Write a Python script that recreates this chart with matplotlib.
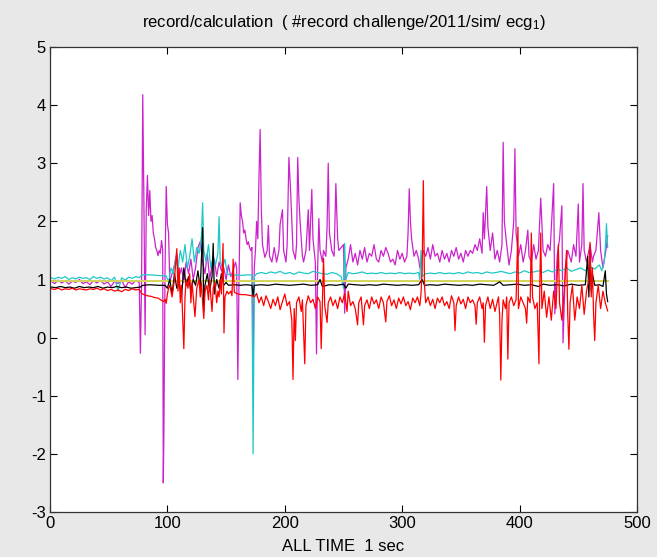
import matplotlib
matplotlib.use('Agg')
import matplotlib.pyplot as plt
import numpy as np

plt.rcParams['font.family'] = ['Liberation Sans Narrow', 'Liberation Sans', 'DejaVu Sans']
plt.rcParams['mathtext.default'] = 'regular'
plt.rcParams['axes.unicode_minus'] = False

# ---- data: (time, value) vertices ----
mag_start = [0.97, 0.93, 0.99, 0.94, 0.98, 0.92, 0.97, 0.95, 1.00, 0.93, 0.96, 0.91, 0.98,
             0.94, 0.99, 0.92, 0.96, 0.88, 0.97, 0.93, 0.99, 0.86, 0.96, 0.92, 0.98, 0.95]
mag = [(77, -0.27), (78, 0.95), (79, 4.18), (80, 2.3), (81, 0.05), (82, 2.2), (83, 2.79), (84, 2.1),
       (85, 2.53), (86, 2.0), (87, 2.1), (88, 1.8), (89, 1.7), (90, 1.55), (91, 1.5), (92, 1.41),
       (93, 1.5), (94, 1.45), (95, 1.67), (96, 1.5), (96.5, -2.5), (97, -1.64), (98, 1.2), (99, 2.6),
       (100, 1.95), (101, 1.8),
       (102, 0.95), (104, 1.1), (106, 1.25), (108, 1.45), (110, 1.05), (112, 1.2), (114, 0.95),
       (116, 1.3), (118, 1.1), (120, 1.35), (122, 1.0), (124, 1.2), (126, 1.55), (128, 1.65),
       (130, 1.3), (132, 1.1), (134, 1.45), (136, 1.0), (138, 1.25), (140, 1.35), (142, 1.05),
       (144, 1.3), (146, 1.15), (148, 1.2), (150, 1.0), (152, 1.25), (154, 1.05), (156, 1.15),
       (158, 1.3),
       (159, 1.2), (160, -0.72), (161, 1.0), (162, 2.32), (163, 2.1), (164, 2.0), (165, 1.8),
       (166, 1.85), (167, 1.7), (168, 1.6), (169, 1.65), (170, 1.55), (171, 1.5), (172, 1.55),
       (173, -0.6), (174, 1.2), (175, 1.5), (176, 2.0), (177, 1.7), (178, 2.75), (179, 3.58),
       (180, 2.2),
       (181, 1.6), (183, 1.38), (185, 1.5), (186, 1.93), (187, 1.4), (189, 1.3), (191, 1.55),
       (193, 1.3), (195, 1.5), (196, 1.95), (198, 2.2), (199, 1.5), (201, 1.3), (202, 1.6),
       (203.5, 3.1), (205, 2.5), (207, 1.5), (209, 1.35), (210, 1.6), (211, 3.1), (212, 2.4),
       (213, 2.0), (215, 1.4), (216, 1.3), (218, 1.5), (220, 2.2), (221, 1.5), (223, 2.55),
       (224, 1.7), (226, 1.3), (227, -0.28), (228, 1.2), (229, 2.05), (230, 1.5), (232, 1.3),
       (233, 1.5), (235, 1.4), (236, 1.9), (237, 3.0), (238, 1.8), (240, 1.5), (242, 1.4),
       (243.5, 2.65), (245, 1.7), (246, 1.5), (248, 1.55), (250, 1.6), (251, 0.42), (252, 1.2),
       (254, 1.35), (256, 1.6), (258, 1.3), (260, 1.45), (262, 1.25), (264, 1.5), (266, 1.35),
       (268, 1.55), (270, 1.3), (272, 1.45), (274, 1.4), (276, 1.6), (278, 1.35), (280, 1.3),
       (282, 1.5), (284, 1.4), (286, 1.55), (288, 1.45), (290, 1.3), (292, 1.35), (294, 1.25),
       (296, 1.5), (298, 1.35), (300, 1.45), (302, 1.3), (304, 1.4), (305, 1.8), (306, 2.56),
       (307, 2.0), (308, 1.7), (310, 1.4), (312, 1.5), (314, 1.35), (315, 1.2), (316, 1.25),
       (318, 1.5), (320, 1.4), (322, 1.55), (324, 1.35), (326, 1.6), (328, 1.4), (330, 1.45),
       (332, 1.3), (334, 1.5), (336, 1.35), (338, 1.45), (340, 1.3), (342, 1.5), (344, 1.4),
       (346, 1.55), (348, 1.35), (350, 1.45), (352, 1.3), (354, 1.5), (356, 1.4), (358, 1.5),
       (360, 1.45), (362, 1.6),
       (364, 1.5), (366, 1.7), (368, 1.45), (369, 2.15), (370, 1.7), (372, 2.6), (373, 1.9),
       (375, 1.5), (377, 1.8), (379, 1.35), (381, 1.5), (383, 1.3), (385, 1.6), (386, 3.36),
       (387, 2.0), (389, 1.6), (391, 1.25), (393, 1.5), (395, 2.0), (396, 3.25), (397, 1.8),
       (399, 1.4), (401, 1.6), (403, 1.3), (405, 1.5), (407, 1.85), (408, 1.4), (410, 1.3),
       (412, 1.6), (414, 1.35), (416, 1.5), (418, 2.4), (420, 1.5), (422, 1.4), (424, 1.6),
       (426, 1.5), (429, 2.65), (430, 0.41), (432, 1.4), (434, 1.7), (436, 2.27), (437, -0.09),
       (439, 1.2), (441, 1.5), (444, 1.3), (446, 1.6), (448, 1.4), (450, 2.3), (451, 1.3),
       (453, 1.6), (454, 2.65), (455, 1.5), (457, 1.3), (458, 1.4), (460, 1.6), (462, 1.3),
       (463, 1.4), (465, 1.5), (467.5, 2.15), (469, 1.5), (471, 1.2), (473.5, 1.5), (475, 1.75)]

cyan_start = [1.03, 1.01, 1.04, 1.02, 1.05, 1.00, 1.03, 1.01, 1.04, 1.02, 1.03, 1.00, 1.05,
              1.02, 1.04, 1.01, 1.03, 0.98, 1.04, 0.80, 1.03, 0.99, 1.04, 1.02, 1.05, 1.03]
cyan = [(78, 1.08), (85, 1.08), (92, 1.07), (99, 1.06), (101, 0.95), (103, 1.2), (105, 1.1),
        (107, 1.35), (109, 1.2), (111, 1.5), (113, 1.3), (115, 1.6), (117, 1.2), (119, 1.4),
        (121, 1.7), (123, 1.3), (125, 1.55), (127, 1.45), (129, 1.75), (130, 2.32), (131, 1.5),
        (133, 1.3), (135, 1.6), (137, 1.2), (139, 1.4), (141, 1.25), (143, 1.45), (144, 2.08),
        (145, 1.3), (147, 1.2), (149, 1.35), (151, 1.1), (153, 1.08), (156, 1.07), (160, 1.08),
        (164, 1.07), (168, 1.08), (172, 1.08), (173, -2.0), (174, 1.05), (176, 1.1),
        (180, 1.12), (184, 1.1), (188, 1.13), (192, 1.11), (196, 1.14), (200, 1.1), (204, 1.12),
        (208, 1.09), (212, 1.13), (216, 1.11), (220, 1.1), (224, 1.14), (228, 1.12), (232, 1.1),
        (236, 1.09), (240, 1.12), (244, 1.1), (248, 1.05), (250, 0.85), (251, 1.62), (252, 1.0),
        (254, 1.12), (258, 1.1), (262, 1.11), (266, 1.13), (270, 1.1), (274, 1.11), (278, 1.1),
        (282, 1.12), (286, 1.1), (290, 1.11), (294, 1.1), (298, 1.12), (302, 1.1), (306, 1.11),
        (310, 1.1), (314, 1.12), (315, 1.0), (316, 1.5), (317, 1.05), (320, 1.1), (324, 1.11),
        (328, 1.1), (332, 1.12), (336, 1.1), (340, 1.11), (344, 1.1), (348, 1.12), (352, 1.1),
        (356, 1.13), (360, 1.11), (364, 1.12), (368, 1.1), (372, 1.13), (376, 1.11), (380, 1.12),
        (384, 1.14), (388, 1.12), (392, 1.1), (396, 1.13), (400, 1.11), (404, 1.15), (408, 1.12),
        (412, 1.13), (416, 1.15), (420, 1.12), (424, 1.16), (428, 1.13), (432, 1.18), (436, 1.15),
        (440, 1.2), (444, 1.14), (448, 1.17), (452, 1.2), (456, 1.15), (460, 1.22), (464, 1.18),
        (468, 1.25), (470, 1.15), (472, 1.3), (473, 1.55), (474, 1.96), (475, 1.55)]

black_start = [0.87, 0.86, 0.88, 0.86, 0.87, 0.85, 0.88, 0.86, 0.87, 0.86,
               0.88, 0.85, 0.87, 0.86, 0.88, 0.86, 0.87, 0.85, 0.86, 0.87]
black = [(79, 0.9), (85, 0.91), (92, 0.9), (98, 0.9), (100, 0.85), (102, 1.0), (104, 0.75),
         (106, 1.1), (108, 0.85), (110, 0.95), (112, 0.7), (114, 1.2), (116, 0.9), (118, 1.05),
         (120, 0.8), (122, 1.0), (124, 0.9), (126, 1.15), (128, 0.85), (130, 1.89), (131, 0.46),
         (132, 0.9), (134, 1.1), (136, 0.8), (138, 1.05), (139, 1.62), (140, 0.75), (142, 1.0),
         (144, 0.85), (146, 1.1), (148, 0.9), (150, 0.95), (152, 0.9), (157, 0.91), (162, 0.9),
         (167, 0.91), (172, 0.9), (173, 0.72), (174, 0.9), (180, 0.91), (186, 0.9), (192, 0.92),
         (198, 0.91), (204, 0.9), (210, 0.91), (216, 0.92), (222, 0.9), (228, 0.91), (230, 1.0),
         (232, 0.88), (238, 0.91), (244, 0.9), (250, 0.92), (252, 0.85), (254, 0.92), (260, 0.91),
         (266, 0.9), (272, 0.91), (278, 0.9), (284, 0.92), (290, 0.91), (296, 0.9), (302, 0.91),
         (308, 0.9), (314, 0.91), (317, 1.0), (319, 0.9), (324, 0.91), (330, 0.9), (336, 0.92),
         (342, 0.91), (348, 0.9), (354, 0.91), (360, 0.9), (366, 0.92), (372, 0.91), (378, 0.9),
         (383, 0.96), (386, 0.9), (392, 0.91), (398, 0.92), (404, 0.9), (410, 0.91), (416, 0.88),
         (420, 0.92), (426, 0.9), (432, 0.91), (438, 0.89), (444, 0.92), (450, 0.9), (456, 0.91),
         (458, 1.4), (459, 0.7), (460, 1.5), (461, 0.8), (462, 1.1), (464, 0.9), (468, 0.91),
         (471, 0.88), (473, 1.15), (474, 0.75), (475, 0.62)]

red_start = [0.84, 0.83, 0.85, 0.82, 0.84, 0.83, 0.85, 0.82, 0.84, 0.83, 0.82, 0.84, 0.83,
             0.85, 0.82, 0.84, 0.81, 0.83, 0.80, 0.82, 0.79, 0.83, 0.81, 0.84, 0.82, 0.83]
red = [(78, 0.76), (80, 0.74), (83, 0.72), (86, 0.71), (89, 0.69), (92, 0.68), (95, 0.64),
       (97, 0.62), (98, 0.66), (99, 0.59), (100, 0.75), (101, 0.85),
       (102, 0.9), (104, 0.7), (106, 1.0), (108, 1.53), (109, 0.8), (110, 1.2), (111, 0.6),
       (112, 0.9), (113, 0.33), (114, -0.19), (115, 0.7), (116, 1.0), (117.5, 0.85), (119, 1.1),
       (120, 0.6), (121, 0.95), (122, 0.7), (123.5, 0.36), (125, 0.85), (127, 1.0), (128, 0.7),
       (129, 0.95), (130, 0.6), (131, 0.33), (132, 0.8), (133.7, 0.9), (135, 0.65), (136, 1.0),
       (137, 0.7), (138, 0.45), (139, 0.85), (140.5, 0.95), (142, 0.6), (143, 0.8), (144, 0.7),
       (145, 1.0), (146, 0.75), (147.4, 1.62), (148.2, 0.08), (149, 0.7), (150.8, 0.8),
       (152, 0.75), (154, 0.8), (155, 0.72), (156, 1.35), (157, 0.78),
       (160, 0.75), (163, 0.74), (166, 0.74), (169, 0.73), (172, 0.72), (174, 0.7), (176, 0.76),
       (178, 0.6), (180, 0.7), (182, 0.55), (184, 0.72), (186, 0.62), (188, 0.5), (190, 0.66),
       (192, 0.55), (194, 0.7), (196, 0.48), (198, 0.62), (200, 0.75), (202, 0.55), (204, 0.62),
       (206, 0.3), (207, -0.72), (208, 0.5), (209, -0.05), (210, 0.6), (212, 0.7), (214, 0.45),
       (215, 0.65), (216, 0.1), (217, -0.45), (218, 0.55), (220, 0.72), (222, 0.6), (224, 0.66),
       (226, 0.5), (228, 0.7), (230, 0.62), (231, -0.19), (232, 0.6), (233, 1.36), (234, 0.55),
       (236, 0.26), (237, 0.6), (239, 0.7), (241, 0.55), (243, 0.65), (245, 0.5), (247, 0.7),
       (249, 0.6), (251, 0.76), (253, 0.45), (254, 0.8), (256, 0.55), (258, 0.62), (260, 0.5),
       (262, 0.22), (263, 0.6), (265, 0.7), (267, 0.22), (268, 0.55), (270, 0.65), (272, 0.5),
       (274, 0.7), (276, 0.58), (278, 0.65), (280, 0.5), (282, 0.7), (284, 0.6), (286, 0.27),
       (287, 0.62), (289, 0.72), (291, 0.55), (293, 0.65), (295, 0.5), (297, 0.68), (299, 0.58),
       (301, 0.7), (303, 0.55), (305, 0.62), (307, 0.48), (309, 0.68), (311, 0.6), (313, 0.7),
       (315, 0.55), (316, 0.75), (317, 1.2), (318, 2.7), (319, 0.9), (320, 0.6), (322, 0.7),
       (324, 0.55), (326, 0.66), (328, 0.5), (330, 0.68), (332, 0.6), (334, 0.7), (336, 0.55),
       (338, 0.62), (340, 0.5), (342, 0.72), (344, 0.6), (345, 0.12), (346, 0.55), (348, 0.7),
       (350, 0.58), (352, 0.66), (354, 0.5), (356, 0.7), (358, 0.6), (360, 0.65), (362, 0.55),
       (363, 0.23), (364, 0.6), (366, 0.7), (368, 0.5), (369, 0.6), (370, -0.08), (371, 0.55),
       (373, 0.7), (375, 0.5), (377, 0.66), (379, 0.45), (381, 0.62), (382, 0.7), (383, 0.4),
       (384, -0.73), (385, 0.3), (386, 0.65), (388, 0.5), (389, 0.7), (390, -0.37), (391, 0.6),
       (393, 0.7), (395, 0.55), (397, 0.65), (398.6, 1.9), (399, 0.5), (401, 0.7), (403, 0.6),
       (405, 0.5), (406, 0.25), (407, 0.7), (409, 0.6), (410, 1.8), (411, 0.7), (413, 0.5),
       (415, 0.6), (416.5, -0.45), (417, 0.6), (418, 1.8), (419, 0.5), (421, 0.8), (423, 0.35),
       (425, 0.7), (427, 0.3), (429, 0.8), (431, 0.5), (433, 1.6), (434, 0.6), (436, 0.3),
       (438, 0.8), (440, 1.5), (441, 0.4), (442, -0.2), (443, 0.6), (445, 0.9), (447, 0.3),
       (449, 0.7), (451, 0.5), (453, 0.9), (455, 0.4), (457, 0.8), (459, 1.0), (460, 1.64),
       (461, 0.7), (462, 1.2), (463, 0.4), (464, -0.05), (465, 0.6), (467, 0.9), (469, 0.5),
       (471, 0.8), (473, 0.6), (475, 0.46)]

yellow = [(1, 0.98), (475, 0.98)]

x_ticks = [0, 100, 200, 300, 400, 500]
y_ticks = [-3, -2, -1, 0, 1, 2, 3, 4, 5]


def series(start_vals, step, pts):
    t0 = list(np.arange(1, 1 + step * len(start_vals), step))
    tv = np.array(pts, dtype=float)
    return np.concatenate([t0, tv[:, 0]]), np.concatenate([start_vals, tv[:, 1]])


fig = plt.figure(figsize=(6.66, 5.57), dpi=100, facecolor='#e8e8e8')
# white strip at the right edge of the window grab
fig.patches.append(plt.Rectangle((657/666., 0), 9/666., 1, transform=fig.transFigure,
                                 facecolor='white', edgecolor='none', zorder=0))
ax = fig.add_axes([50/666., 1-512/557., 587/666., 465/557.])
ax.set_facecolor('white')

lw = 0.9
t, v = series(mag_start, 3, mag)
ax.plot(t, v, color='#cc22cc', lw=lw)
t, v = series(cyan_start, 3, cyan)
ax.plot(t, v, color='#1fc8c8', lw=lw)
yt = np.array(yellow)
ax.plot(yt[:, 0], yt[:, 1], color='#d4d45a', lw=1.4)
t, v = series(black_start, 4, black)
ax.plot(t, v, color='black', lw=lw)
t, v = series(red_start, 3, red)
ax.plot(t, v, color='#ff0000', lw=lw)

ax.set_xlim(0, 500)
ax.set_ylim(-3, 5)
ax.set_xticks(x_ticks)
ax.set_yticks(y_ticks)
ax.tick_params(direction='in', top=True, right=True, length=5, width=0.8,
               labelsize=12, pad=3, colors='black')
for s in ax.spines.values():
    s.set_linewidth(0.9)
    s.set_color('#333333')

ax.set_xlabel('ALL TIME  1 sec', fontsize=12)
ax.xaxis.set_label_coords(0.5, -0.058)
fig.text((50+637)/2./666, 1-22/557., 'record/calculation  ( #record challenge/2011/sim/ ecg$_1$)',
         ha='center', va='center', fontsize=12)

fig.savefig('out.png', dpi=100, facecolor=fig.get_facecolor())
